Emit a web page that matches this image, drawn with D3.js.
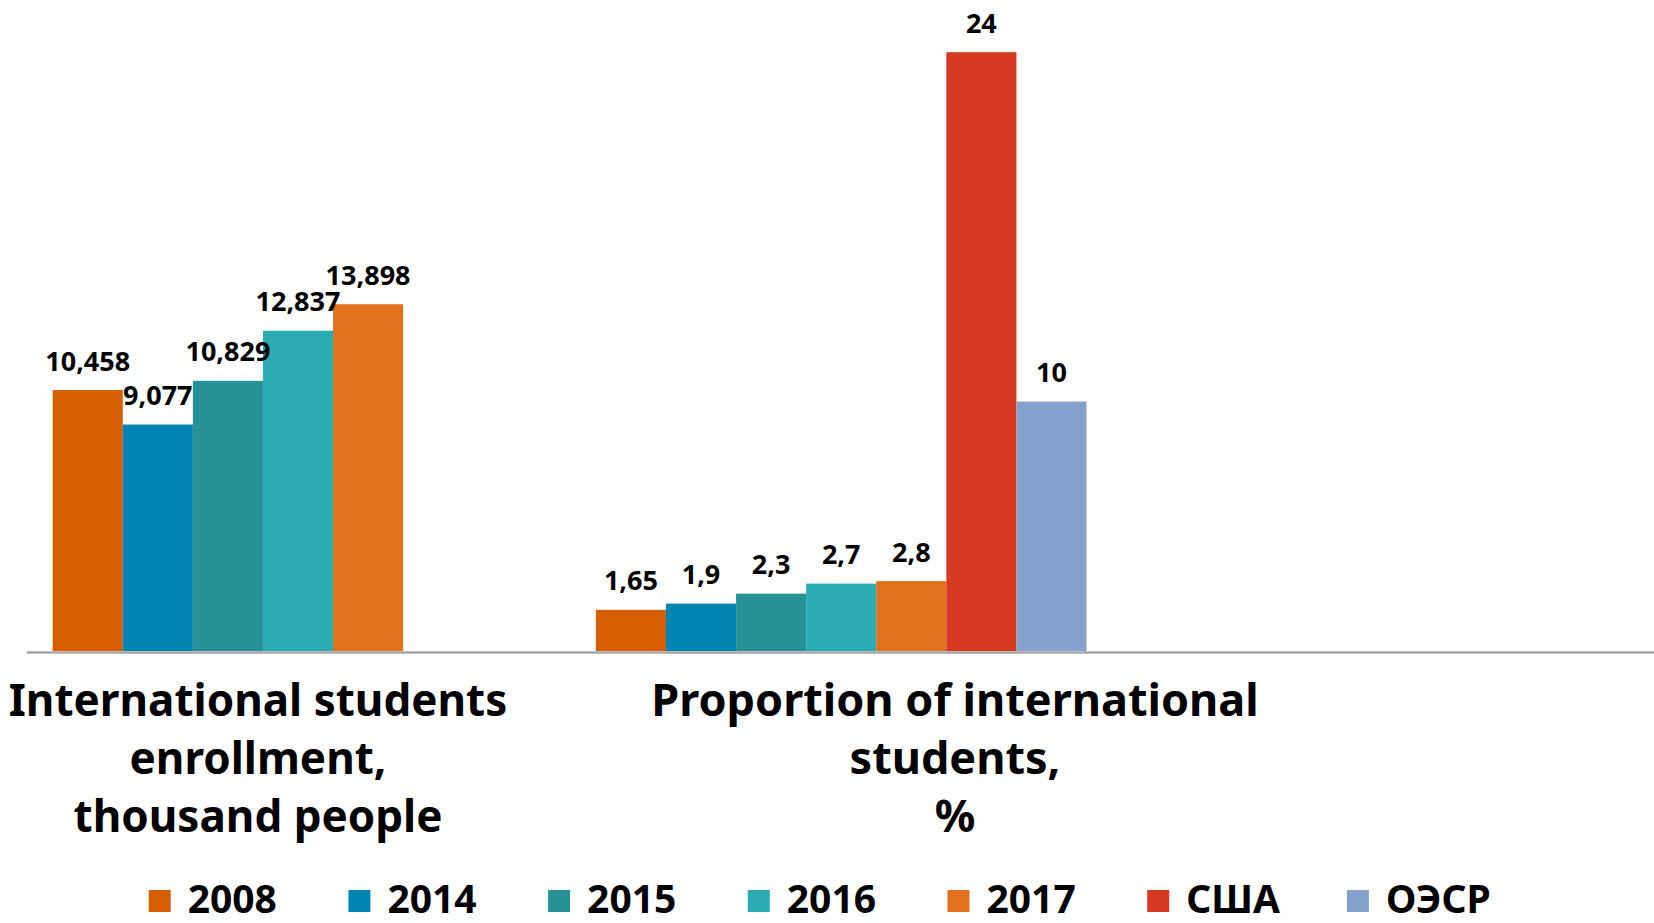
<!DOCTYPE html>
<html>
<head>
<meta charset="utf-8">
<script src="https://cdnjs.cloudflare.com/ajax/libs/d3/7.8.5/d3.min.js"></script>
<style>
  body { margin: 0; background: #fff; }
  svg { display: block; }
  text { font-family: "Noto Sans", sans-serif; font-weight: bold; fill: #000; }
</style>
</head>
<body>
<svg id="chart" width="1654" height="923"></svg>
<script>
// data
var categories = ["enrollment", "proportion", "empty"];
var categoryLines = [
  ["International students", "enrollment,", "thousand people"],
  ["Proportion of international", "students,", "%"]
];
var seriesNames = ["2008", "2014", "2015", "2016", "2017", "США", "ОЭСР"];
var enrollmentValues = [10.458, 9.077, 10.829, 12.837, 13.898, null, null];
var proportionValues = [1.65, 1.9, 2.3, 2.7, 2.8, 24, 10];
var colors = ["#D65E00", "#0084B4", "#269296", "#2BABB2", "#E0711E", "#D63820", "#86A2CC"];

var width = 1654;
var height = 923;
var baseY = 651;
var labelCenters = [258, 955];
var labelSizes = [44, 45];

var svg = d3.select("#chart");

var x0 = d3.scaleBand()
  .domain(categories)
  .range([26.4, 1656])
  .padding(0);

var x1 = d3.scaleBand()
  .domain(seriesNames)
  .range([0, x0.bandwidth()])
  .paddingInner(0)
  .paddingOuter(0.375);

var y = d3.scaleLinear()
  .domain([0, 25])
  .range([baseY, baseY - 25 * 24.95]);

var color = d3.scaleOrdinal().domain(seriesNames).range(colors);

function fmt(v) {
  return String(v).replace(".", ",");
}

var rows = [enrollmentValues, proportionValues];

rows.forEach(function(vals, ci) {
  var g = svg.append("g")
    .attr("transform", "translate(" + x0(categories[ci]) + ",0)");

  var pts = seriesNames.map(function(s, i) { return { s: s, v: vals[i] }; })
    .filter(function(d) { return d.v != null; });

  g.selectAll("rect")
    .data(pts)
    .enter().append("rect")
    .attr("x", function(d) { return x1(d.s); })
    .attr("width", x1.bandwidth())
    .attr("y", function(d) { return y(d.v); })
    .attr("height", function(d) { return y(0) - y(d.v); })
    .attr("fill", function(d) { return color(d.s); });

  g.selectAll("text.val")
    .data(pts)
    .enter().append("text")
    .attr("class", "val")
    .attr("x", function(d) { return x1(d.s) + x1.bandwidth() / 2; })
    .attr("y", function(d) { return y(d.v) - 19.5; })
    .attr("text-anchor", "middle")
    .style("font-size", "27px")
    .text(function(d) { return fmt(d.v); });
});

// axis line
var axis = d3.axisBottom(x0).tickSize(0).tickFormat("");
svg.append("g")
  .attr("transform", "translate(0," + (baseY + 1) + ")")
  .call(axis)
  .call(function(g) {
    g.select(".domain").attr("stroke", "#A6A6A6").attr("stroke-width", 2.5);
  });

// category labels
categoryLines.forEach(function(lines, ci) {
  var t = svg.append("text")
    .attr("text-anchor", "middle")
    .style("font-size", labelSizes[ci] + "px");
  lines.forEach(function(line, li) {
    t.append("tspan")
      .attr("x", labelCenters[ci])
      .attr("y", 716 + li * 58)
      .text(line);
  });
});

// legend
var legend = svg.append("g").selectAll("g")
  .data(seriesNames)
  .enter().append("g")
  .attr("transform", function(d, i) { return "translate(" + (148.7 + i * 199.7) + ",890)"; });

legend.append("rect")
  .attr("width", 22)
  .attr("height", 22)
  .attr("fill", function(d) { return color(d); });

legend.append("text")
  .attr("x", 39)
  .attr("y", 23)
  .style("font-size", "39px")
  .text(function(d) { return d; });
</script>
</body>
</html>
